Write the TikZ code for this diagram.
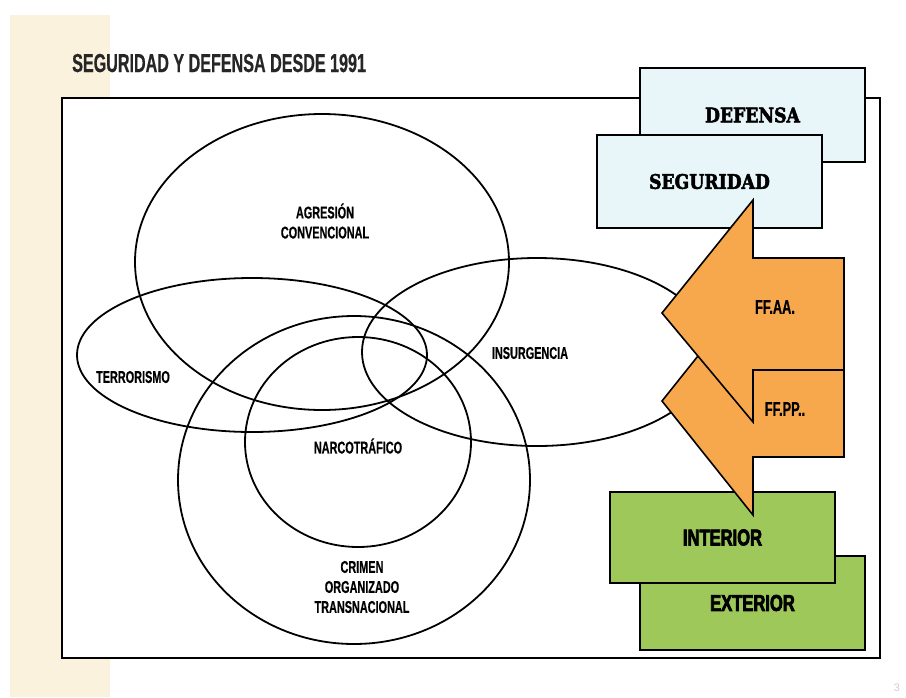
\documentclass[tikz,border=0pt]{standalone}
\usepackage{fontspec}
\setmainfont{Liberation Sans}
\newfontfamily\titlefont[FakeStretch=0.62,FakeBold=0.5]{Liberation Sans}
\newfontfamily\labelfont[FakeStretch=0.64,FakeBold=0.5]{Liberation Sans}
\newfontfamily\heavyfont[FakeStretch=0.72,FakeBold=3]{Liberation Sans}
\newfontfamily\slabfont[FakeStretch=0.86,FakeBold=2.5]{DejaVu Serif}
\usetikzlibrary{positioning}

\definecolor{stripbeige}{RGB}{251,242,222}
\definecolor{boxblue}{RGB}{232,246,250}
\definecolor{arroworange}{RGB}{247,168,76}
\definecolor{boxgreen}{RGB}{158,200,90}

\begin{document}
\begin{tikzpicture}[x=1pt, y=-1pt,
  venn/.style={line width=1.8pt},
  venntext/.style={inner sep=0pt, align=center, font=\labelfont\bfseries\fontsize{17}{20}\selectfont},
  bluebox/.style={draw=black, line width=2.4pt, fill=boxblue, minimum width=225pt, font=\slabfont\bfseries\fontsize{20}{22}\selectfont},
  greenbox/.style={draw=black, line width=2.4pt, fill=boxgreen, minimum width=225pt, font=\heavyfont\bfseries\fontsize{23}{26}\selectfont},
  orangearrow/.style={draw=black, line width=1.6pt, fill=arroworange, line join=miter},
  arrowtext/.style={inner sep=0pt, font=\labelfont\bfseries\fontsize{20}{22}\selectfont}]
  \useasboundingbox (0,0) rectangle (906,697);

  % page background
  \fill[stripbeige] (10,15) rectangle (110,697);
  \node[anchor=base west, inner sep=0pt, font=\titlefont\bfseries\fontsize{26}{28}\selectfont, text=black!85] (title) at (72,72) {SEGURIDAD Y DEFENSA DESDE 1991};
  \draw[line width=2.6pt, fill=white] (62,98) rectangle (880,658);

  % the five threats
  \draw[venn] (322,262) ellipse [x radius=187pt, y radius=148pt];
  \draw[venn] (252,355) ellipse [x radius=175pt, y radius=77pt];
  \draw[venn] (537,352) ellipse [x radius=175pt, y radius=94pt];
  \draw[venn] (354,480) ellipse [x radius=176pt, y radius=164pt];
  \draw[venn] (358,442) ellipse [x radius=113pt, y radius=105pt];

  \node[venntext] (agresion) at (325,221) {AGRESIÓN\\CONVENCIONAL};
  \node[venntext] (terrorismo) at (133,377) {TERRORISMO};
  \node[venntext] (insurgencia) at (530,353) {INSURGENCIA};
  \node[venntext] (narco) at (358,446) {NARCOTRÁFICO};
  \node[venntext] (crimen) at (362,587) {CRIMEN\\ORGANIZADO\\TRANSNACIONAL};

  % boxes on the right
  \node[bluebox, minimum height=94pt] (defensa) at (752.5,115) {DEFENSA};
  \node[bluebox, minimum height=93pt] (seguridad) at (709.5,181.5) {SEGURIDAD};
  \node[greenbox, minimum height=94pt] (exterior) at (752.5,603) {EXTERIOR};
  \node[greenbox, minimum height=91pt] (interior) at (722.5,537.5) {INTERIOR};

  % arrows
  \draw[orangearrow] (844,370) -- (753,370) -- (753,287) -- (662,401) -- (753,515) -- (753,457) -- (844,457) -- cycle;
  \draw[orangearrow] (844,258) -- (753,258) -- (753,200) -- (662,313) -- (753,422) -- (753,370) -- (844,370) -- cycle;
  \node[arrowtext] (ffaa) at (775,307) {FF.AA.};
  \node[arrowtext] (ffpp) at (785,409) {FF.PP..};

  \node[text=black!20, font=\fontsize{11}{12}\selectfont, inner sep=0pt] (pagenum) at (897,688) {3};
\end{tikzpicture}
\end{document}
